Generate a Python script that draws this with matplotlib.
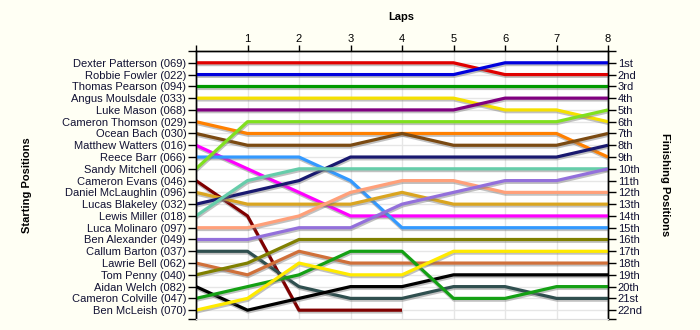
import matplotlib
matplotlib.use('Agg')
import matplotlib.pyplot as plt
import matplotlib.patheffects as pe
import numpy as np

laps = [0, 1, 2, 3, 4, 5, 6, 7, 8]
drivers = ["Dexter Patterson (069)", "Robbie Fowler (022)", "Thomas Pearson (094)",
           "Angus Moulsdale (033)", "Luke Mason (068)", "Cameron Thomson (029)",
           "Ocean Bach (030)", "Matthew Watters (016)", "Reece Barr (066)",
           "Sandy Mitchell (006)", "Cameron Evans (046)", "Daniel McLaughlin (096)",
           "Lucas Blakeley (032)", "Lewis Miller (018)", "Luca Molinaro (097)",
           "Ben Alexander (049)", "Callum Barton (037)", "Lawrie Bell (062)",
           "Tom Penny (040)", "Aidan Welch (082)", "Cameron Colville (047)",
           "Ben McLeish (070)"]
nan = np.nan
dexter_patterson = [1, 1, 1, 1, 1, 1, 2, 2, 2]
robbie_fowler = [2, 2, 2, 2, 2, 2, 1, 1, 1]
thomas_pearson = [3, 3, 3, 3, 3, 3, 3, 3, 3]
angus_moulsdale = [4, 4, 4, 4, 4, 4, 5, 5, 6]
luke_mason = [5, 5, 5, 5, 5, 5, 4, 4, 4]
cameron_thomson = [6, 7, 7, 7, 7, 7, 7, 7, 9]
ocean_bach = [7, 8, 8, 8, 7, 8, 8, 8, 7]
matthew_watters = [8, 10, 12, 14, 14, 14, 14, 14, 14]
reece_barr = [9, 9, 9, 11, 15, 15, 15, 15, 15]
sandy_mitchell = [10, 6, 6, 6, 6, 6, 6, 6, 5]
cameron_evans = [11, 14, 22, 22, 22, nan, nan, nan, nan]
daniel_mclaughlin = [12, 13, 13, 13, 12, 13, 13, 13, 13]
lucas_blakeley = [13, 12, 11, 9, 9, 9, 9, 9, 8]
lewis_miller = [14, 11, 10, 10, 10, 10, 10, 10, 10]
luca_molinaro = [15, 15, 14, 12, 11, 11, 12, 12, 12]
ben_alexander = [16, 16, 15, 15, 13, 12, 11, 11, 10]
callum_barton = [17, 17, 20, 21, 21, 20, 20, 21, 21]
lawrie_bell = [18, 19, 17, 18, 18, 18, 18, 18, 18]
tom_penny = [19, 18, 16, 16, 16, 16, 16, 16, 16]
aidan_welch = [20, 22, 21, 20, 20, 19, 19, 19, 19]
cameron_colville = [21, 20, 19, 17, 17, 21, 21, 20, 20]
ben_mcleish = [22, 21, 18, 19, 19, 17, 17, 17, 17]

series = [dexter_patterson, robbie_fowler, thomas_pearson, angus_moulsdale, luke_mason,
          cameron_thomson, ocean_bach, matthew_watters, reece_barr, sandy_mitchell,
          cameron_evans, daniel_mclaughlin, lucas_blakeley, lewis_miller, luca_molinaro,
          ben_alexander, callum_barton, lawrie_bell, tom_penny, aidan_welch,
          cameron_colville, ben_mcleish]
colors = ['#E00000', '#0000DD', '#009A00', '#F5E000', '#800080', '#FF8000', '#7B4A12',
          '#FF00FF', '#3399FF', '#80E020', '#800000', '#DAA520', '#191970', '#66CDAA',
          '#FFA07A', '#9370DB', '#2F4F4F', '#D0703A', '#808000', '#000000', '#14A014',
          '#FFEA00']
finish_labels = ['1st', '2nd', '3rd'] + [f'{i}th' for i in range(4, 21)] + ['21st', '22nd']

bg = '#FFFFF4'
fig = plt.figure(figsize=(7, 3.3), dpi=100, facecolor=bg)
ax = fig.add_axes([0.28, 0.0333, 0.5886, 0.8121])
ax.set_facecolor('white')

ymax = 22.75
for i, (vals, c) in enumerate(zip(series, colors)):
    ax.plot(laps, vals, color=c, lw=2.3, solid_capstyle='butt', zorder=3 + i * 0.01,
            path_effects=[pe.SimpleLineShadow(offset=(0.4, -1.3), shadow_color='#777777', alpha=0.45),
                          pe.Normal()])

ax.set_xlim(0, 8)
ax.set_ylim(ymax, 0)
for x in laps:
    ax.axvline(x, color='#E6E6E6', lw=1, zorder=1)
for y in range(1, 23):
    ax.axhline(y, color='#E6E6E6', lw=1, zorder=1)

fnt = 'Liberation Sans'
ax.xaxis.tick_top()
ax.set_xticks(laps)
ax.set_xticklabels([''] + [str(l) for l in laps[1:]], fontsize=8, family=fnt)
ax.tick_params(axis='x', direction='out', length=4, width=1, pad=1)

yt = [0] + list(range(1, 23)) + [ymax]
ax.set_yticks(yt)
ax.set_yticklabels([''] + drivers + [''], fontsize=8, family=fnt, color='#111133')
ax.tick_params(axis='y', direction='out', length=6, width=1, pad=1)

ax2 = ax.twinx()
ax2.set_ylim(ymax, 0)
ax2.set_yticks(yt)
ax2.set_yticklabels([''] + finish_labels + [''], fontsize=8, family=fnt, color='#111133')
ax2.tick_params(axis='y', direction='out', length=6, width=1, pad=1)

for a in (ax, ax2):
    a.spines['bottom'].set_color('#DDDDDD')
    for s in ('top', 'left', 'right'):
        a.spines[s].set_color('black')
        a.spines[s].set_linewidth(1)

fig.text(0.573, 0.948, 'Laps', fontsize=8, fontweight='bold', family=fnt, ha='center', va='center')
fig.text(0.039, 0.44, 'Starting Positions', fontsize=8, fontweight='bold', family=fnt,
         ha='center', va='center', rotation=90)
fig.text(0.95, 0.44, 'Finishing Positions', fontsize=8, fontweight='bold', family=fnt,
         ha='center', va='center', rotation=270)

fig.savefig('out.png', dpi=100, facecolor=bg)
